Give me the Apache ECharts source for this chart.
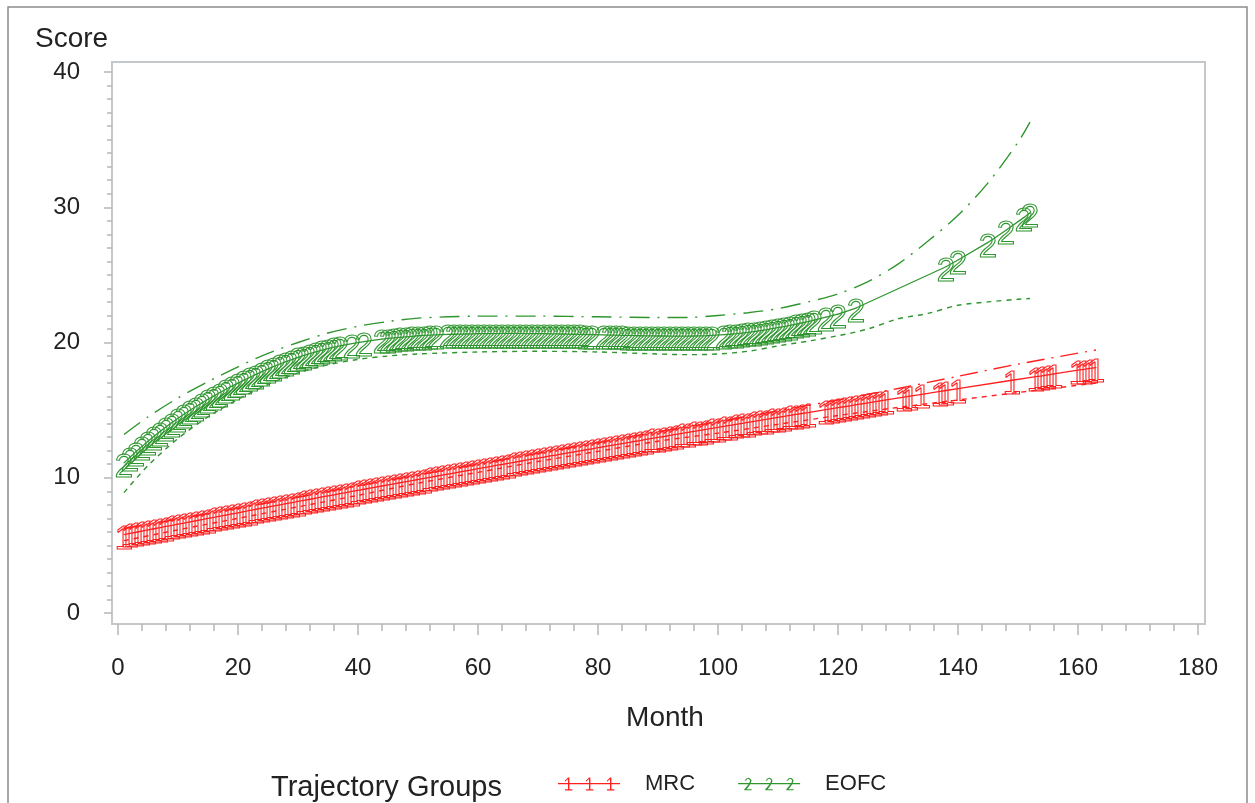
<!DOCTYPE html>
<html>
<head>
<meta charset="utf-8">
<title>Trajectory Groups</title>
<script src="https://cdn.jsdelivr.net/npm/echarts@6.0.0/dist/echarts.min.js"></script>
<style>
  html, body { margin: 0; padding: 0; background: #fff; }
  #chart { width: 1255px; height: 803px; }
</style>
</head>
<body>
<div id="chart"></div>
<script>
// predicted scores [month, score] for each trajectory group (marker at each observed month)
const mrcPredicted = [
  [1,5.80],[2,5.89],[3,5.97],[4,6.06],[5,6.14],[6,6.23],[7,6.31],[8,6.40],[9,6.48],[10,6.57],[11,6.65],
  [12,6.74],[13,6.82],[14,6.91],[15,6.99],[16,7.07],[17,7.16],[18,7.24],[19,7.33],[20,7.41],[21,7.50],
  [22,7.58],[23,7.67],[24,7.75],[25,7.83],[26,7.92],[27,8.00],[28,8.08],[29,8.16],[30,8.25],[31,8.33],
  [32,8.41],[33,8.49],[34,8.58],[35,8.66],[36,8.74],[37,8.82],[38,8.90],[39,8.99],[40,9.07],[41,9.15],
  [42,9.23],[43,9.31],[44,9.39],[45,9.47],[46,9.55],[47,9.63],[48,9.71],[49,9.79],[50,9.87],[51,9.95],
  [52,10.03],[53,10.11],[54,10.19],[55,10.27],[56,10.35],[57,10.43],[58,10.51],[59,10.59],[60,10.67],[61,10.75],
  [62,10.83],[63,10.91],[64,10.98],[65,11.06],[66,11.14],[67,11.22],[68,11.30],[69,11.37],[70,11.45],[71,11.53],
  [72,11.61],[73,11.68],[74,11.76],[75,11.84],[76,11.91],[77,11.99],[78,12.07],[79,12.14],[80,12.22],[81,12.30],
  [82,12.38],[83,12.45],[84,12.53],[85,12.60],[86,12.68],[87,12.75],[88,12.83],[89,12.91],[90,12.98],[91,13.05],
  [92,13.13],[93,13.20],[94,13.28],[95,13.35],[96,13.43],[97,13.50],[98,13.57],[99,13.65],[100,13.72],[101,13.80],
  [102,13.87],[103,13.95],[104,14.02],[105,14.09],[106,14.17],[107,14.24],[108,14.31],[109,14.39],[110,14.46],[111,14.53],
  [112,14.61],[113,14.68],[114,14.75],[115,14.82],[118,15.04],[119,15.11],[120,15.18],[121,15.25],
  [122,15.32],[123,15.40],[124,15.47],[125,15.54],[126,15.61],[127,15.68],[128,15.75],
  [131,15.96],[132,16.03],[134,16.17],[137,16.38],[138,16.45],[140,16.59],[149,17.21],
  [153,17.48],[154,17.54],[155,17.61],[156,17.68],[160,17.95],[161,18.01],[162,18.08],[163,18.15]
];
const mrcUpper = [
  [1,6.25],[10,6.95],[20,7.75],[30,8.55],[40,9.4],[50,10.2],[60,11.0],[70,11.8],[80,12.6],
  [90,13.4],[100,14.15],[110,14.95],[120,15.75],[130,16.6],[140,17.5],[150,18.4],[163,19.45]
];
const mrcLower = [
  [1,5.35],[10,6.15],[20,7.0],[30,7.85],[40,8.7],[50,9.6],[60,10.4],[70,11.2],[80,11.95],
  [90,12.7],[100,13.3],[110,13.95],[120,14.6],[130,15.2],[140,15.75],[150,16.3],[163,17.0]
];

const eofcPredicted = [
  [1,11.10],[2,11.52],[3,11.93],[4,12.32],[5,12.70],[6,13.06],[7,13.42],[8,13.76],[9,14.09],[10,14.40],
  [11,14.70],[12,14.99],[13,15.27],[14,15.54],[15,15.80],[16,16.05],[17,16.30],[18,16.54],[19,16.77],[20,17.00],
  [21,17.22],[22,17.43],[23,17.64],[24,17.85],[25,18.05],[26,18.23],[27,18.41],[28,18.58],[29,18.74],[30,18.90],
  [31,19.04],[32,19.18],[33,19.31],[34,19.43],[35,19.55],[36,19.65],[37,19.75],[39,19.92],[41,20.07],
  [44,20.25],[45,20.30],[46,20.34],[47,20.38],[48,20.42],[49,20.46],[50,20.50],[51,20.52],[52,20.54],[53,20.56],
  [55,20.60],[56,20.61],[57,20.62],[58,20.63],[59,20.64],[60,20.65],[61,20.65],[62,20.66],[63,20.66],[64,20.67],
  [65,20.67],[66,20.67],[67,20.67],[68,20.66],[69,20.66],[70,20.65],[71,20.65],[72,20.64],[73,20.64],[74,20.63],
  [75,20.62],[76,20.61],[77,20.60],[78,20.59],[79,20.58],
  [81,20.56],[82,20.55],[83,20.54],[84,20.53],[85,20.52],[86,20.51],[87,20.50],[88,20.49],[89,20.49],[90,20.48],
  [91,20.48],[92,20.47],[93,20.47],[94,20.47],[95,20.47],[96,20.48],[97,20.49],[98,20.50],[99,20.52],
  [101,20.58],[102,20.61],[103,20.65],[104,20.70],[105,20.75],[106,20.81],[107,20.87],[108,20.94],[109,21.02],[110,21.10],
  [111,21.18],[112,21.26],[113,21.35],[114,21.45],[115,21.55],[116,21.66],[118,21.88],[120,22.10],[123,22.55],
  [138,25.60],[140,26.10],[145,27.40],[148,28.30],[151,29.25],[152,29.60]
];
const eofcUpper = [
  [1,13.2],[5,14.5],[10,15.9],[15,17.1],[20,18.2],[25,19.2],[30,20.0],[35,20.7],[40,21.2],[45,21.55],
  [50,21.8],[55,21.9],[60,21.95],[70,21.95],[80,21.9],[90,21.85],[95,21.85],[100,22.0],[105,22.2],[110,22.5],
  [115,23.0],[120,23.6],[125,24.5],[130,25.8],[135,27.5],[140,29.4],[145,31.8],[150,34.8],[152,36.3]
];
const eofcLower = [
  [1,8.9],[5,10.9],[10,12.9],[15,14.5],[20,15.8],[25,16.9],[30,17.75],[35,18.35],[40,18.75],[45,19.0],
  [50,19.15],[60,19.3],[70,19.35],[80,19.3],[90,19.15],[95,19.1],[100,19.15],[105,19.35],[110,19.75],[115,20.1],
  [120,20.5],[125,21.0],[130,21.75],[135,22.15],[140,22.75],[145,23.0],[150,23.2],[152,23.25]
];

const groupNames = ['MRC', 'EOFC'];
const groupColors = ['#ff1f1f', '#2f962f'];
const xTicks = { min: 0, max: 180, interval: 20 };
const yTicks = { min: 0, max: 40, interval: 10 };

const font = 'Liberation Sans, Arial, sans-serif';

// legend icons: line with three digit glyphs
function oneIcon() {
  let p = 'M0 6.4H62V7.6H0Z';
  [10, 31, 52].forEach(c => {
    p += `M${c} 0.8H${c + 1.4}V13H${c}Z`;
    p += `M${c} 0.8L${c - 3} 3.8L${c - 3} 5L${c} 2.4Z`;
    p += `M${c - 3} 12.6H${c + 4.4}V13.8H${c - 3}Z`;
  });
  return 'path://' + p;
}
function twoIcon() {
  let p = 'M0 6.4H62V7.6H0Z';
  [10, 31, 52].forEach(c => {
    p += `M${c - 3.5} 4Q${c} -1.5 ${c + 3.4} 3.6Q${c + 3.4} 7 ${c - 1.6} 12.6H${c + 3.6}V13.8H${c - 3.8}V12.6Q${c + 2} 7 ${c + 2} 3.8Q${c} 0.6 ${c - 2.2} 4.2Z`;
  });
  return 'path://' + p;
}

function glyphLabel(ch, color) {
  return {
    show: true,
    formatter: ch,
    position: 'inside',
    offset: [0, 5],
    fontFamily: font,
    fontSize: 33,
    color: 'rgba(255,255,255,0)',
    textBorderColor: color,
    textBorderWidth: 1.1
  };
}

function predictedSeries(name, data, ch, color) {
  return {
    name: name,
    type: 'line',
    data: data,
    symbol: 'circle',
    symbolSize: 1,
    itemStyle: { color: color },
    lineStyle: { color: color, width: 1.3 },
    label: glyphLabel(ch, color),
    z: 3
  };
}

function boundSeries(name, data, color, dash) {
  return {
    name: name,
    type: 'line',
    data: data,
    smooth: 0.3,
    symbol: 'none',
    lineStyle: { color: color, width: 1.4, type: dash },
    z: 2
  };
}

const tickStyle = { color: '#b3b8bb', width: 1.5 };

const chart = echarts.init(document.getElementById('chart'));
chart.setOption({
  animation: false,
  backgroundColor: '#fff',
  textStyle: { fontFamily: font },
  title: [
    { text: 'Score', left: 30, top: 20, textStyle: { fontSize: 28, fontWeight: 'normal', color: '#222', fontFamily: font } },
    { text: 'Trajectory Groups', left: 266, top: 768, textStyle: { fontSize: 29, fontWeight: 'normal', color: '#222', fontFamily: font } }
  ],
  graphic: [
    { type: 'rect', silent: true, shape: { x: 8, y: 7, width: 1239, height: 830 }, style: { fill: null, stroke: '#8c8c8c', lineWidth: 1.5 } },
    { type: 'rect', silent: true, shape: { x: 112, y: 62, width: 1093, height: 562 }, style: { fill: null, stroke: '#c4c8cb', lineWidth: 2 } }
  ],
  legend: {
    left: 553,
    top: 768,
    itemWidth: 62,
    itemHeight: 14,
    itemGap: 43,
    textStyle: { fontSize: 22, color: '#222', fontFamily: font, padding: [0, 0, 0, 20] },
    data: [
      { name: groupNames[0], icon: oneIcon() },
      { name: groupNames[1], icon: twoIcon() }
    ]
  },
  grid: { left: 118, right: 57, top: 72, bottom: 190, containLabel: false },
  xAxis: {
    type: 'value',
    min: xTicks.min,
    max: xTicks.max,
    interval: xTicks.interval,
    offset: 11,
    name: 'Month',
    nameLocation: 'middle',
    nameGap: 80,
    nameTextStyle: { fontSize: 28, color: '#222', fontFamily: font, padding: [0, 0, 0, 14] },
    axisLine: { show: false, onZero: false },
    axisTick: { show: true, inside: false, length: 11, lineStyle: tickStyle },
    minorTick: { show: true, splitNumber: 5, length: 7, lineStyle: tickStyle },
    splitLine: { show: false },
    axisLabel: { fontSize: 24, color: '#222', margin: 32, fontFamily: font }
  },
  yAxis: {
    type: 'value',
    min: yTicks.min,
    max: yTicks.max,
    interval: yTicks.interval,
    offset: 6,
    axisLine: { show: false, onZero: false },
    axisTick: { show: true, inside: false, length: 8, lineStyle: tickStyle },
    minorTick: { show: true, splitNumber: 10, length: 5, lineStyle: tickStyle },
    splitLine: { show: false },
    axisLabel: { fontSize: 24, color: '#222', margin: 32, fontFamily: font }
  },
  series: [
    boundSeries('MRC upper', mrcUpper, groupColors[0], [18, 7, 2, 7]),
    boundSeries('MRC lower', mrcLower, groupColors[0], [5, 5]),
    boundSeries('EOFC upper', eofcUpper, groupColors[1], [20, 8, 2, 8]),
    boundSeries('EOFC lower', eofcLower, groupColors[1], [5, 5]),
    predictedSeries(groupNames[0], mrcPredicted, '1', groupColors[0]),
    predictedSeries(groupNames[1], eofcPredicted, '2', groupColors[1])
  ]
});
</script>
</body>
</html>
